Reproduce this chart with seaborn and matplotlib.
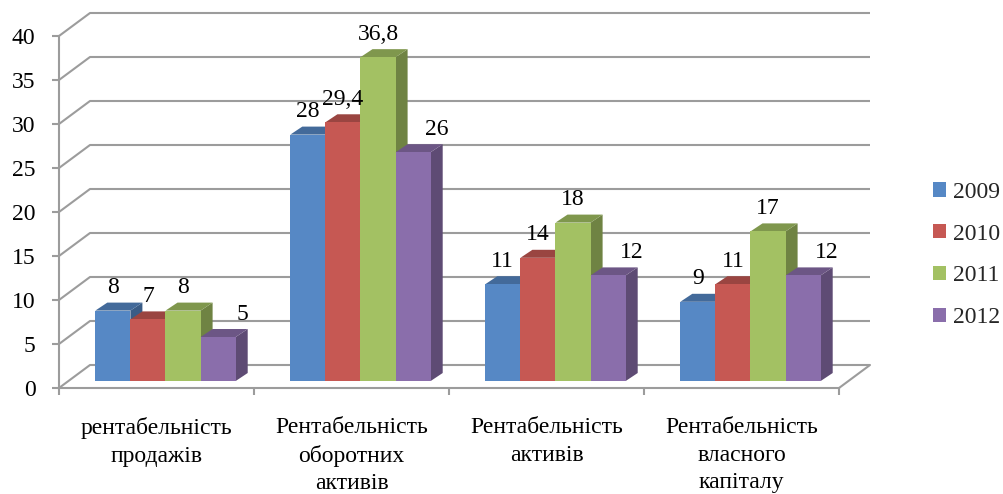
import numpy as np
import pandas as pd
import matplotlib
matplotlib.use("Agg")
import matplotlib.pyplot as plt
import seaborn as sns
from matplotlib.patches import Polygon
from matplotlib.colors import to_rgb

# ---- data -------------------------------------------------------------
categories = [
    "рентабельність\nпродажів",
    "Рентабельність\nоборотних\nактивів",
    "Рентабельність\nактивів",
    "Рентабельність\nвласного\nкапіталу",
]
years = ["2009", "2010", "2011", "2012"]
v2009 = [8, 28, 11, 9]
v2010 = [7, 29.4, 14, 11]
v2011 = [8, 36.8, 18, 17]
v2012 = [5, 26, 12, 12]
y_ticks = list(range(0, 41, 5))

series = {"2009": v2009, "2010": v2010, "2011": v2011, "2012": v2012}
df = pd.DataFrame(
    [(cat, yr, val) for yr in years for cat, val in zip(categories, series[yr])],
    columns=["category", "year", "value"],
)

colors = ["#5688C5", "#C65853", "#A3C163", "#8A6EAB"]
grid_color = "#9C9C9C"

# ---- style --------------------------------------------------------------
sns.set_theme(style="white")
plt.rcParams["font.family"] = ["Liberation Serif", "DejaVu Serif"]
FS = 17

W, H = 1004, 494
fig = plt.figure(figsize=(W / 100, H / 100), dpi=100)
ax = fig.add_axes([59 / W, (H - 388) / H, 780 / W, 352 / H])

sns.barplot(
    data=df, x="category", y="value", hue="year",
    order=categories, hue_order=years, palette=colors,
    width=0.72, saturation=1, errorbar=None, linewidth=0, ax=ax,
)
ax.set_xlim(-0.5, 3.5)
ax.set_ylim(0, 40)
ax.set_xlabel("")
ax.set_ylabel("")

# pixel -> data conversion for the oblique depth vectors
p0 = ax.transData.transform((0, 0))
p1 = ax.transData.transform((1, 1))
ux, uy = p1[0] - p0[0], p1[1] - p0[1]

WALL = (31 / ux, 23 / uy)      # front axis -> back wall
SHIFT = (9 / ux, 7 / uy)       # front axis -> front face of bars
DEPTH = (12 / ux, 8 / uy)      # bar thickness

# back wall grid lines with their diagonal run-in from the axis
for v in y_ticks:
    ax.plot([-0.5, -0.5 + WALL[0], 3.5 + WALL[0]], [v, v + WALL[1], v + WALL[1]],
            color=grid_color, lw=1.5, clip_on=False, zorder=0.5,
            solid_capstyle="butt")
ax.plot([3.5, 3.5 + WALL[0]], [0, WALL[1]], color=grid_color, lw=1.5,
        clip_on=False, zorder=0.5)


def shade(c, f):
    r, g, b = to_rgb(c)
    return (r * f, g * f, b * f)


# collect bars with their series index, draw faces left to right
bars = []
for hi, cont in enumerate(ax.containers):
    for bar in cont:
        bars.append((bar.get_x(), hi, bar))
bars.sort(key=lambda t: t[0])

for i, (_, hi, bar) in enumerate(bars):
    x0 = bar.get_x() + SHIFT[0]
    y0 = SHIFT[1]
    w = bar.get_width()
    h = bar.get_height()
    bar.set_x(x0)
    bar.set_y(y0)
    bar.set_linewidth(0)
    bar.set_clip_on(False)
    base = 2 + 3 * i
    bar.set_zorder(base + 2)
    col = colors[hi]
    top = Polygon([(x0, y0 + h), (x0 + w, y0 + h),
                   (x0 + w + DEPTH[0], y0 + h + DEPTH[1]),
                   (x0 + DEPTH[0], y0 + h + DEPTH[1])],
                  closed=True, facecolor=shade(col, 0.78), edgecolor="none",
                  zorder=base + 1, clip_on=False)
    side = Polygon([(x0 + w, y0), (x0 + w + DEPTH[0], y0 + DEPTH[1]),
                    (x0 + w + DEPTH[0], y0 + h + DEPTH[1]), (x0 + w, y0 + h)],
                   closed=True, facecolor=shade(col, 0.68), edgecolor="none",
                   zorder=base, clip_on=False)
    ax.add_patch(side)
    ax.add_patch(top)
    label = f"{h:g}".replace(".", ",")
    dx_px = 24 if hi == 3 else 0
    ax.annotate(label, xy=(x0 + w / 2, y0 + h),
                xytext=(dx_px * 0.72, 23 * 0.72), textcoords="offset points",
                ha="center", va="center", fontsize=FS, color="black",
                zorder=500, annotation_clip=False)

# axes styling
for s in ["top", "right"]:
    ax.spines[s].set_visible(False)
for s in ["left", "bottom"]:
    ax.spines[s].set_visible(True)
    ax.spines[s].set_color(grid_color)
    ax.spines[s].set_linewidth(1.5)
    ax.spines[s].set_zorder(1)

ax.set_yticks(y_ticks)
ax.set_yticklabels([str(t) for t in y_ticks])
ax.tick_params(axis="y", left=True, length=5, width=1.5, color=grid_color,
               direction="out", pad=12, labelsize=FS, labelcolor="black")

ax.set_xticks(range(len(categories)))
ax.set_xticklabels(categories, linespacing=1.4)
ax.set_xticks(np.arange(-0.5, len(categories), 1), minor=True)
ax.tick_params(axis="x", which="major", bottom=False, length=0, pad=21,
               labelsize=FS, labelcolor="black")
ax.tick_params(axis="x", which="minor", bottom=True, length=5, width=1.5,
               color=grid_color, direction="out")

sns.move_legend(
    ax, loc="center left", bbox_to_anchor=(933 / W, (H - 255) / H),
    bbox_transform=fig.transFigure, frameon=False, title=None,
    fontsize=FS, handlelength=0.55, handleheight=0.55, handletextpad=0.3,
    labelspacing=0.88, borderpad=0, borderaxespad=0,
)

fig.savefig("out.png", dpi=100)
